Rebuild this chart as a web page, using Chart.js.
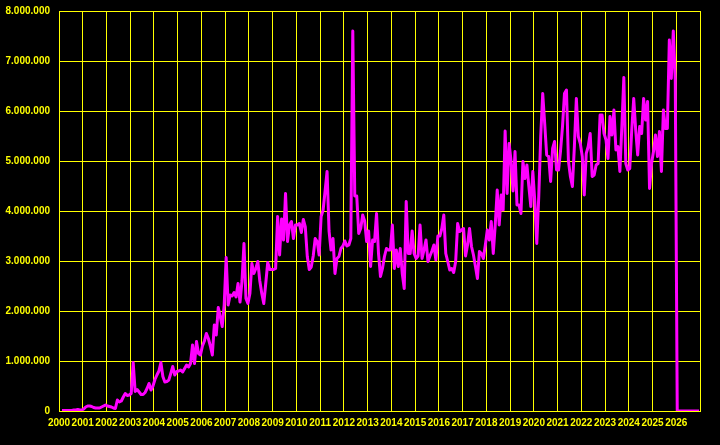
<!DOCTYPE html>
<html>
<head>
<meta charset="utf-8">
<script src="https://cdn.jsdelivr.net/npm/chart.js@4/dist/chart.umd.min.js"></script>
<style>
  html, body { margin: 0; padding: 0; background: #000; }
  #chart { display: block; }
</style>
</head>
<body>
<canvas id="chart" width="720" height="445"></canvas>
<script>
// monthly values, millions, Jan..Dec
const m2000 = [null, 0.01, 0.01, 0.01, 0.01, 0.01, 0.01, 0.02, 0.02, 0.03, 0.02, 0.02]
const m2001 = [0.04, 0.08, 0.1, 0.1, 0.09, 0.07, 0.06, 0.06, 0.06, 0.08, 0.1, 0.12]
const m2002 = [0.1, 0.09, 0.08, 0.06, 0.05, 0.22, 0.18, 0.2, 0.28, 0.35, 0.31, 0.32]
const m2003 = [0.35, 0.97, 0.39, 0.43, 0.38, 0.33, 0.33, 0.37, 0.45, 0.55, 0.42, 0.5]
const m2004 = [0.63, 0.72, 0.8, 0.97, 0.69, 0.58, 0.59, 0.62, 0.75, 0.89, 0.72, 0.79]
const m2005 = [0.8, 0.82, 0.78, 0.85, 0.92, 0.88, 0.95, 1.32, 0.95, 1.39, 1.15, 1.12]
const m2006 = [1.3, 1.4, 1.55, 1.45, 1.3, 1.12, 1.72, 1.52, 2.07, 1.89, 1.69, 2.12]
const m2007 = [3.07, 2.12, 2.32, 2.3, 2.37, 2.28, 2.55, 2.18, 2.6, 3.35, 2.25, 2.15]
const m2008 = [2.35, 2.95, 2.75, 2.85, 2.99, 2.6, 2.35, 2.15, 2.55, 2.97, 2.83, 2.83]
const m2009 = [2.83, 2.85, 3.89, 3.12, 3.84, 3.42, 4.35, 3.39, 3.72, 3.79, 3.45, 3.72]
const m2010 = [3.72, 3.75, 3.57, 3.83, 3.68, 3.09, 2.83, 2.88, 3.1, 3.45, 3.39, 3.12]
const m2011 = [3.89, 4.02, 4.4, 4.79, 3.6, 3.22, 3.45, 2.75, 3.05, 3.09, 3.25, 3.3]
const m2012 = [3.4, 3.3, 3.32, 3.45, 7.6, 4.3, 4.3, 3.55, 3.65, 3.92, 3.8, 3.39]
const m2013 = [3.6, 2.89, 3.42, 3.39, 3.95, 3.15, 2.69, 2.85, 3.09, 3.25, 3.22, 3.22]
const m2014 = [3.72, 2.85, 3.22, 2.89, 3.25, 2.75, 2.45, 4.19, 3.15, 3.15, 3.6, 3.15]
const m2015 = [3.05, 3.1, 3.72, 3.05, 3.22, 3.42, 2.99, 3.1, 3.2, 3.32, 3.02, 3.5]
const m2016 = [3.5, 3.65, 3.92, 3.15, 2.99, 2.82, 2.85, 2.77, 2.99, 3.75, 3.59, 3.62]
const m2017 = [3.65, 3.1, 3.32, 3.65, 3.29, 3.12, 2.89, 2.65, 3.19, 3.15, 3.05, 3.32]
const m2018 = [3.62, 3.42, 3.79, 3.15, 3.72, 4.42, 3.72, 4.32, 4.02, 5.6, 4.35, 5.35]
const m2019 = [5.0, 4.4, 5.19, 4.12, 4.12, 3.95, 4.99, 4.65, 4.92, 4.49, 4.09, 4.79]
const m2020 = [4.2, 3.35, 4.29, 5.5, 6.35, 5.75, 5.12, 5.09, 4.59, 5.25, 5.39, 4.82]
const m2021 = [4.82, 5.2, 5.69, 6.35, 6.42, 5.0, 4.69, 4.49, 5.29, 6.25, 5.49, 5.35]
const m2022 = [5.09, 4.32, 5.15, 5.29, 5.55, 4.69, 4.72, 4.92, 4.95, 5.92, 5.92, 5.55]
const m2023 = [5.42, 5.05, 5.89, 5.52, 6.02, 5.22, 5.29, 4.79, 5.69, 6.67, 4.95, 4.82]
const m2024 = [4.85, 5.62, 6.25, 5.62, 5.12, 5.69, 5.55, 6.25, 5.82, 6.19, 4.45, 4.95]
const m2025 = [5.19, 5.52, 5.09, 5.59, 4.79, 6.02, 5.65, 5.65, 7.42, 6.65, 7.6, 6.62]
const m2026 = [0, 0, 0, 0, 0, 0, 0, 0, 0, 0, 0, 0]

const firstYear = 2000
const monthly = [m2000, m2001, m2002, m2003, m2004, m2005, m2006, m2007, m2008,
  m2009, m2010, m2011, m2012, m2013, m2014, m2015, m2016, m2017, m2018, m2019,
  m2020, m2021, m2022, m2023, m2024, m2025, m2026]

const points = []
monthly.forEach((months, yi) => {
  months.forEach((v, mi) => {
    points.push({x: firstYear + yi + (mi + 0.5) / 12, y: v === null ? null : v * 1e6})
  })
})

const yellow = '#ffff00'
const fmt = n => String(Math.round(n)).replace(/\B(?=(\d{3})+(?!\d))/g, '.')

new Chart(document.getElementById('chart'), {
  type: 'line',
  data: {
    datasets: [{
      data: points,
      borderColor: '#ff00ff',
      borderWidth: 3,
      borderJoinStyle: 'round',
      pointRadius: 0,
      tension: 0,
      fill: false
    }]
  },
  plugins: [{
    id: 'bg',
    beforeDraw: c => {
      const ctx = c.ctx
      ctx.save()
      ctx.fillStyle = '#000'
      ctx.fillRect(0, 0, c.width, c.height)
      ctx.restore()
    }
  }],
  options: {
    responsive: false,
    animation: false,
    layout: {padding: {top: 11, right: 20, left: 0, bottom: 0}},
    plugins: {legend: {display: false}, tooltip: {enabled: false}},
    scales: {
      x: {
        type: 'linear',
        min: 2000,
        max: 2027,
        afterFit: s => { s.height = 34 },
        grid: {color: yellow, lineWidth: 1, drawTicks: false},
        border: {color: yellow},
        ticks: {
          stepSize: 1,
          autoSkip: false,
          maxRotation: 0,
          padding: 6,
          color: yellow,
          font: {family: 'Liberation Sans', size: 10, weight: 'bold'},
          callback: v => v >= 2027 ? '' : String(v)
        }
      },
      y: {
        min: 0,
        max: 8000000,
        afterFit: s => {
          s.width = 59
          s.paddingTop = 0
          s.paddingBottom = 0
        },
        grid: {color: yellow, lineWidth: 1, drawTicks: false},
        border: {color: yellow},
        ticks: {
          stepSize: 1000000,
          padding: 9,
          color: yellow,
          font: {family: 'Liberation Sans', size: 10, weight: 'bold'},
          callback: v => fmt(v)
        }
      }
    }
  }
})
</script>
</body>
</html>
